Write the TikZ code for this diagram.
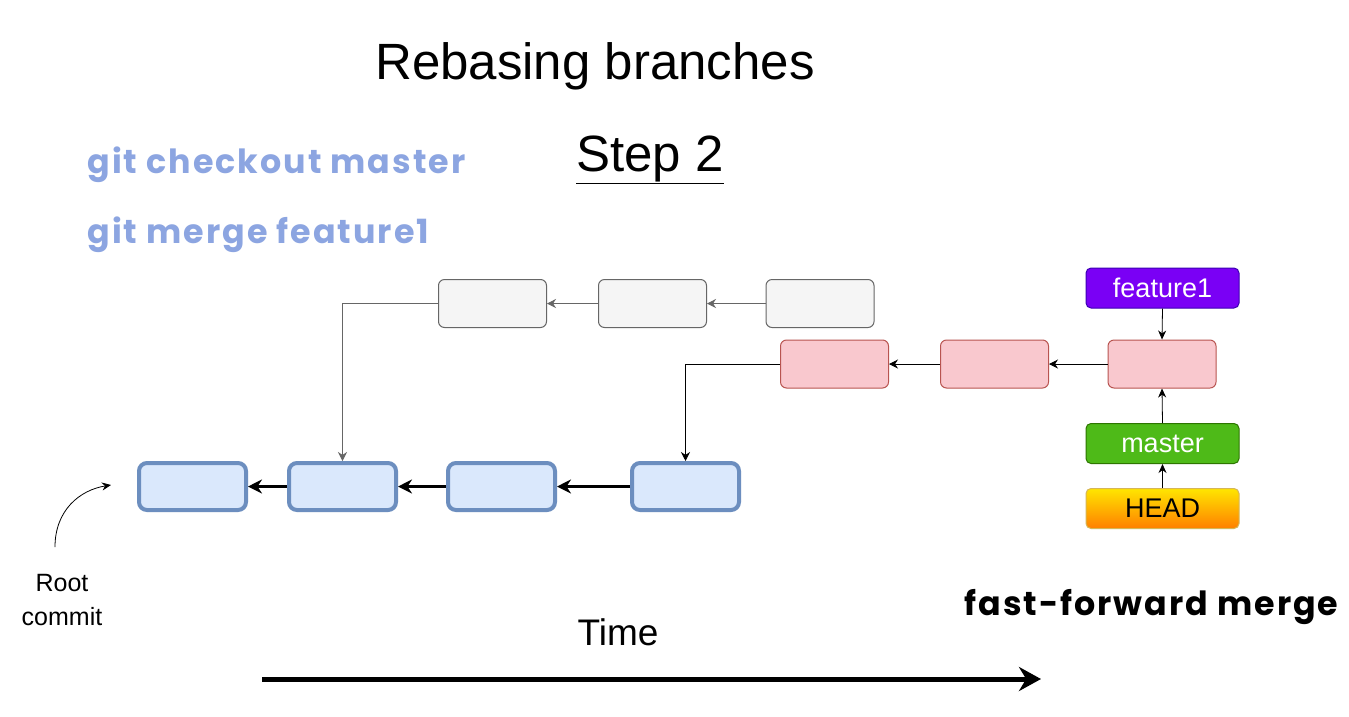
\documentclass[tikz,border=0pt]{standalone}
\usepackage{fontspec}
\setmainfont{Liberation Sans}
\newfontfamily\cmdfont{Poppins}[LetterSpace=6]
\usetikzlibrary{arrows.meta}
\definecolor{cmdblue}{RGB}{140,165,225}
\definecolor{cmfill}{RGB}{218,232,252}
\definecolor{cmdraw}{RGB}{108,142,191}
\definecolor{oldfill}{RGB}{245,245,245}
\definecolor{olddraw}{RGB}{102,102,102}
\definecolor{newfill}{RGB}{249,200,206}
\definecolor{newdraw}{RGB}{184,84,80}
\definecolor{featfill}{RGB}{122,0,245}
\definecolor{featdraw}{RGB}{60,0,180}
\definecolor{mastfill}{RGB}{78,186,24}
\definecolor{mastdraw}{RGB}{45,118,0}
\definecolor{headdraw}{RGB}{214,182,86}
\tikzstyle{cmt}=[rectangle,rounded corners=8pt,draw=cmdraw,fill=cmfill,line width=4pt,minimum width=107pt,minimum height=47pt]
\tikzstyle{oldc}=[rectangle,rounded corners=6pt,draw=olddraw,fill=oldfill,line width=1pt,minimum width=108pt,minimum height=48pt]
\tikzstyle{newc}=[rectangle,rounded corners=6pt,draw=newdraw,fill=newfill,line width=1pt,minimum width=108pt,minimum height=48pt]
\tikzstyle{ptrbox}=[rectangle,rounded corners=5pt,line width=1pt,minimum width=153pt,minimum height=40pt,font=\fontsize{27}{30}\selectfont]
\tikzstyle{cmdtxt}=[anchor=west,text=cmdblue,font=\cmdfont\bfseries\fontsize{33.3}{40}\selectfont]

\begin{document}
\begin{tikzpicture}[x=1pt,y=-1pt]
\useasboundingbox[fill=white] (0,0) rectangle (1349,716);
\node (title) at (595,66) {\fontsize{51}{60}\selectfont Rebasing branches};
\node (step) at (650,160) {\fontsize{51}{60}\selectfont \underline{Step 2}};
\node[cmdtxt] (co) at (84,165) {git checkout master};
\node[cmdtxt] (mg) at (84,235) {git merge feature1};
\node[cmt] (c1) at (192.5,486.5) {};
\node[cmt] (c2) at (342.5,486.5) {};
\node[cmt] (c3) at (501.5,486.5) {};
\node[cmt] (c4) at (685.5,486.5) {};
\draw[-{Stealth[length=14pt,width=14pt]},line width=3.5pt] (c2.west) -- (c1.east);
\draw[-{Stealth[length=14pt,width=14pt]},line width=3.5pt] (c3.west) -- (c2.east);
\draw[-{Stealth[length=14pt,width=14pt]},line width=3.5pt] (c4.west) -- (c3.east);
\node[oldc] (o1) at (492.5,303.5) {};
\node[oldc] (o2) at (652.5,303.5) {};
\node[oldc] (o3) at (820,303.5) {};
\draw[-{Stealth[length=9pt,width=9pt]},thick,olddraw] (o3.west) -- (o2.east);
\draw[-{Stealth[length=9pt,width=9pt]},thick,olddraw] (o2.west) -- (o1.east);
\draw[-{Stealth[length=9pt,width=9pt]},thick,olddraw] (o1.west) -| (c2.north);
\node[newc] (p1) at (834.5,364) {};
\node[newc] (p2) at (994.5,364) {};
\node[newc] (p3) at (1162,364) {};
\draw[-{Stealth[length=9pt,width=9pt]},thick] (p3.west) -- (p2.east);
\draw[-{Stealth[length=9pt,width=9pt]},thick] (p2.west) -- (p1.east);
\draw[-{Stealth[length=9pt,width=9pt]},thick] (p1.west) -| (c4.north);
\node[ptrbox,fill=featfill,draw=featdraw,text=white] (feat) at (1162.5,288) {feature1};
\node[ptrbox,fill=mastfill,draw=mastdraw,text=white] (mast) at (1162.5,443.5) {master};
\node[ptrbox,top color=yellow!80!orange,bottom color=orange,draw=headdraw] (head) at (1162.5,508.5) {HEAD};
\draw[-{Stealth[length=9pt,width=8pt]},thick] (feat.south) -- (p3.north);
\draw[-{Stealth[length=9pt,width=8pt]},thick] (mast.north) -- (p3.south);
\draw[-{Stealth[length=9pt,width=8pt]},thick] (head.north) -- (mast.south);
\node[align=center,font=\fontsize{25}{34}\selectfont] (root) at (62,600) {Root\\commit};
\coordinate (rtip) at (111,485);
\draw[-{Stealth[length=9pt,width=8pt]},thick] (55,547) .. controls (55,510) and (80,490) .. (rtip);
\node[font=\fontsize{37}{44}\selectfont] (time) at (618,632) {Time};
\coordinate (t0) at (262,679);
\coordinate (t1) at (1041,679);
\draw[-{Stealth[length=22pt,width=24pt]},line width=5pt] (t0) -- (t1);
\node[anchor=east,font=\cmdfont\bfseries\fontsize{33.3}{40}\selectfont] (ff) at (1342,607) {fast-forward merge};
\end{tikzpicture}
\end{document}
